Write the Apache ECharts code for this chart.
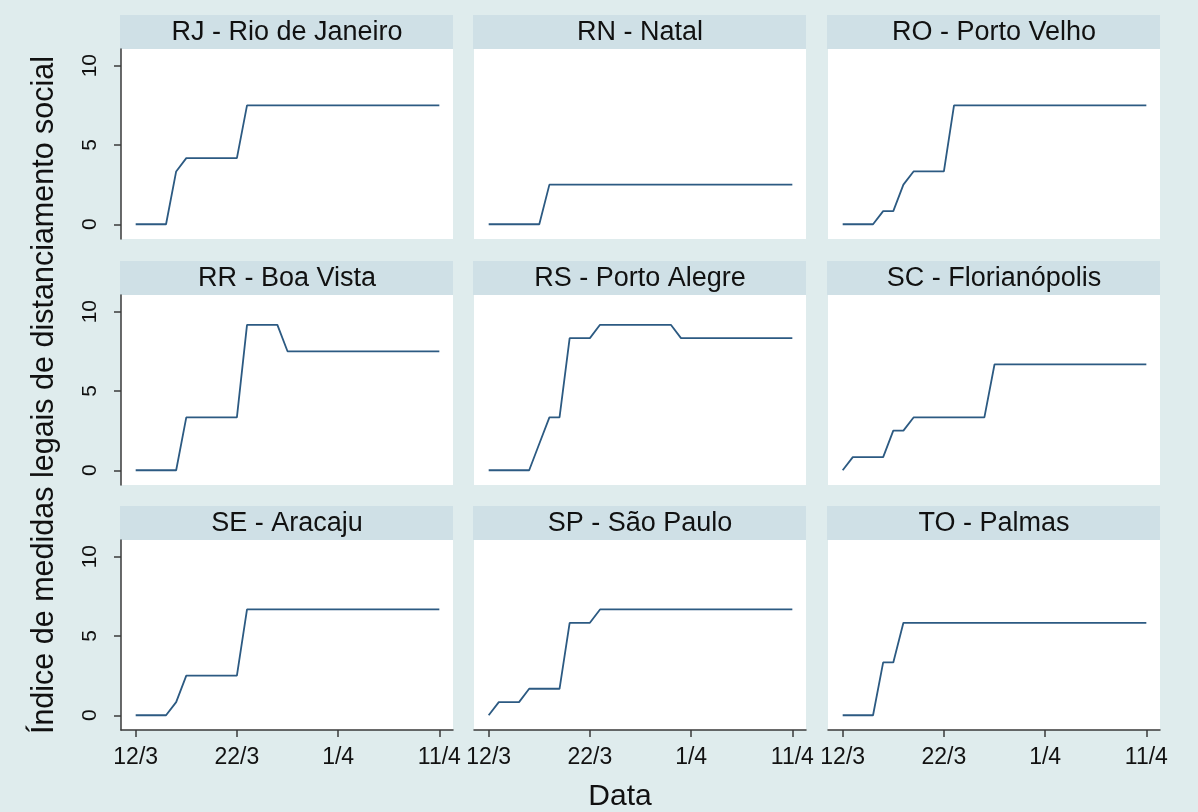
<!DOCTYPE html>
<html>
<head>
<meta charset="utf-8">
<script src="https://cdn.jsdelivr.net/npm/echarts@6/dist/echarts.min.js"></script>
<style>
  html, body { margin: 0; padding: 0; background: #ffffff; }
  #chart { width: 1198px; height: 812px; }
</style>
</head>
<body>
<div id="chart"></div>
<script>
// ---- Data ----
const panelTitles = ["RJ - Rio de Janeiro", "RN - Natal", "RO - Porto Velho",
                     "RR - Boa Vista", "RS - Porto Alegre", "SC - Florianópolis",
                     "SE - Aracaju", "SP - São Paulo", "TO - Palmas"];
const dates = ["12/3","13/3","14/3","15/3","16/3","17/3","18/3","19/3","20/3","21/3",
               "22/3","23/3","24/3","25/3","26/3","27/3","28/3","29/3","30/3","31/3",
               "1/4","2/4","3/4","4/4","5/4","6/4","7/4","8/4","9/4","10/4","11/4"];
const xTickLabels = ["12/3", "22/3", "1/4", "11/4"];
const yTickLabels = [0, 5, 10];
const yTitle = "Índice de medidas legais de distanciamento social";
const xTitle = "Data";

const RJ = [0,0,0,0,3.33,4.17,4.17,4.17,4.17,4.17,4.17,7.5,7.5,7.5,7.5,7.5,7.5,7.5,7.5,7.5,7.5,7.5,7.5,7.5,7.5,7.5,7.5,7.5,7.5,7.5,7.5];
const RN = [0,0,0,0,0,0,2.5,2.5,2.5,2.5,2.5,2.5,2.5,2.5,2.5,2.5,2.5,2.5,2.5,2.5,2.5,2.5,2.5,2.5,2.5,2.5,2.5,2.5,2.5,2.5,2.5];
const RO = [0,0,0,0,0.83,0.83,2.5,3.33,3.33,3.33,3.33,7.5,7.5,7.5,7.5,7.5,7.5,7.5,7.5,7.5,7.5,7.5,7.5,7.5,7.5,7.5,7.5,7.5,7.5,7.5,7.5];
const RR = [0,0,0,0,0,3.33,3.33,3.33,3.33,3.33,3.33,9.17,9.17,9.17,9.17,7.5,7.5,7.5,7.5,7.5,7.5,7.5,7.5,7.5,7.5,7.5,7.5,7.5,7.5,7.5,7.5];
const RS = [0,0,0,0,0,1.67,3.33,3.33,8.33,8.33,8.33,9.17,9.17,9.17,9.17,9.17,9.17,9.17,9.17,8.33,8.33,8.33,8.33,8.33,8.33,8.33,8.33,8.33,8.33,8.33,8.33];
const SC = [0,0.83,0.83,0.83,0.83,2.5,2.5,3.33,3.33,3.33,3.33,3.33,3.33,3.33,3.33,6.67,6.67,6.67,6.67,6.67,6.67,6.67,6.67,6.67,6.67,6.67,6.67,6.67,6.67,6.67,6.67];
const SE = [0,0,0,0,0.83,2.5,2.5,2.5,2.5,2.5,2.5,6.67,6.67,6.67,6.67,6.67,6.67,6.67,6.67,6.67,6.67,6.67,6.67,6.67,6.67,6.67,6.67,6.67,6.67,6.67,6.67];
const SP = [0,0.83,0.83,0.83,1.67,1.67,1.67,1.67,5.83,5.83,5.83,6.67,6.67,6.67,6.67,6.67,6.67,6.67,6.67,6.67,6.67,6.67,6.67,6.67,6.67,6.67,6.67,6.67,6.67,6.67,6.67];
const TO = [0,0,0,0,3.33,3.33,5.83,5.83,5.83,5.83,5.83,5.83,5.83,5.83,5.83,5.83,5.83,5.83,5.83,5.83,5.83,5.83,5.83,5.83,5.83,5.83,5.83,5.83,5.83,5.83,5.83];

const panelSeries = [RJ, RN, RO, RR, RS, SC, SE, SP, TO];

// ---- Layout / style ----
const colLeft = [121, 474, 828];
const rowTop = [49, 295, 540];
const gW = 332, gH = 190, headerH = 34;
const bgColor = '#dfeced';
const headerColor = '#cfe0e6';
const lineColor = '#2c5a82';
const axisColor = '#3a3a3a';
const textColor = '#111111';
const font = '"Liberation Sans", Arial, sans-serif';

const xTickValues = xTickLabels.map(l => dates.indexOf(l));

const grids = [], xAxes = [], yAxes = [], series = [], graphics = [];
panelSeries.forEach((vals, i) => {
  const r = Math.floor(i / 3), c = i % 3;
  grids.push({ left: colLeft[c], top: rowTop[r], width: gW, height: gH,
               show: true, backgroundColor: '#ffffff', borderWidth: 0, containLabel: false });
  const isBottom = r === 2, isLeft = c === 0;
  xAxes.push({
    type: 'value', gridIndex: i, min: -1.45, max: 31.35,
    splitLine: { show: false },
    axisLine: { show: isBottom, onZero: false, lineStyle: { color: axisColor, width: 1.5 } },
    axisTick: { show: isBottom, customValues: xTickValues, length: 7, lineStyle: { color: axisColor, width: 1.5 } },
    axisLabel: { show: isBottom, customValues: xTickValues, margin: 16,
                 formatter: v => dates[Math.round(v)],
                 fontSize: 23, color: textColor, fontFamily: font }
  });
  yAxes.push({
    type: 'value', gridIndex: i, min: -0.93, max: 11.05,
    splitLine: { show: false },
    axisLine: { show: isLeft, onZero: false, lineStyle: { color: axisColor, width: 1.5 } },
    axisTick: { show: isLeft, customValues: yTickLabels, length: 7, lineStyle: { color: axisColor, width: 1.5 } },
    axisLabel: { show: isLeft, customValues: yTickLabels, rotate: 90, margin: 20,
                 fontSize: 21, color: textColor, fontFamily: font }
  });
  series.push({
    type: 'line', xAxisIndex: i, yAxisIndex: i,
    data: vals.map((v, k) => [k, v]),
    showSymbol: false, symbol: 'none',
    lineStyle: { color: lineColor, width: 1.8 },
    silent: true
  });
  graphics.push({
    type: 'rect', silent: true,
    shape: { x: colLeft[c] - 1, y: rowTop[r] - headerH, width: gW + 1, height: headerH },
    style: { fill: headerColor }
  });
  graphics.push({
    type: 'text', silent: true,
    x: colLeft[c] + gW / 2, y: rowTop[r] - headerH / 2 + 1,
    style: { text: panelTitles[i], fill: textColor, font: '27px ' + font,
             textAlign: 'center', textVerticalAlign: 'middle' }
  });
});

graphics.push({
  type: 'text', silent: true, x: 45, y: 395, rotation: Math.PI / 2,
  style: { text: yTitle, fill: textColor, font: '30.5px ' + font,
           textAlign: 'center', textVerticalAlign: 'middle' }
});
graphics.push({
  type: 'text', silent: true, x: 620, y: 797,
  style: { text: xTitle, fill: textColor, font: '30px ' + font,
           textAlign: 'center', textVerticalAlign: 'middle' }
});

const chart = echarts.init(document.getElementById('chart'), null, { renderer: 'canvas' });
chart.setOption({
  animation: false,
  backgroundColor: bgColor,
  grid: grids, xAxis: xAxes, yAxis: yAxes, series: series,
  graphic: { elements: graphics }
});
</script>
</body>
</html>
